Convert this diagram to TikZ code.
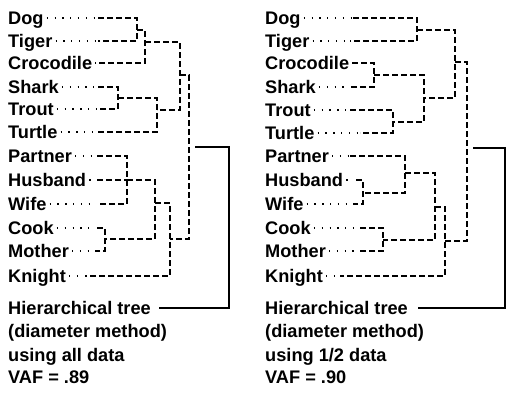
\documentclass[tikz,border=0pt]{standalone}
\usepackage{fontspec}
\setmainfont{Liberation Sans}
\newcommand\leaf[5]{\node[lbl] (#1) at (#2,#3) {#4};\coordinate (#1d) at (#5,#3);\draw[dots] (#1.east) -- (#1d);}
\newcommand\leafnd[5]{\node[lbl] (#1) at (#2,#3) {#4};\coordinate (#1d) at (#5,#3);}
\begin{document}
\begin{tikzpicture}[x=1pt,y=-1pt,
 lbl/.style={anchor=west,inner sep=0pt,text height=13pt,text depth=0pt,font=\fontsize{18.2}{20}\selectfont\bfseries},
 dots/.style={line width=1.3pt,dash pattern=on 1.3pt off 6.5pt,shorten <=3pt,shorten >=2pt},
 dsh/.style={line width=1.3pt,dash pattern=on 6pt off 3pt},
 sol/.style={line width=1.5pt}]
\useasboundingbox (0,0) rectangle (506,392);
% ---------------- left tree ----------------
\leaf{Ldog}{8}{18}{Dog}{98}
\leaf{Ltiger}{8}{41}{Tiger}{98}
\leafnd{Lcroc}{8}{63}{Crocodile}{95}
\leaf{Lshark}{8}{87}{Shark}{98}
\leaf{Ltrout}{8}{109}{Trout}{98}
\leaf{Lturtle}{8}{132}{Turtle}{98}
\leaf{Lpartner}{8}{156}{Partner}{97}
\leaf{Lhusband}{8}{180}{Husband}{97}
\leaf{Lwife}{8}{204}{Wife}{98}
\leaf{Lcook}{8}{228}{Cook}{97}
\leaf{Lmother}{8}{251}{Mother}{95}
\leaf{Lknight}{8}{276}{Knight}{85}
\node[lbl] (Lh) at (8,308) {Hierarchical tree};
\node[lbl] (Ld) at (8,331) {(diameter method)};
\node[lbl] (Lu) at (8,355) {using all data};
\node[lbl] (Lv) at (8,377) {VAF = .89};
\coordinate (c1) at (137,30);
\coordinate (c2) at (145,42);
\coordinate (c3) at (118,98);
\coordinate (c4) at (157,110);
\coordinate (c5) at (180,75);
\coordinate (c6) at (127,180);
\coordinate (c7) at (105,239);
\coordinate (c8) at (155,203);
\coordinate (c9) at (170,239);
\coordinate (c10) at (189,147);
\coordinate (s1) at (195,147);
\coordinate (sL) at (229,308);
\draw[dsh] (Ldogd) -| (c1) |- (Ltigerd);
\draw[dsh] (c1) -| (c2) |- (Lcrocd);
\draw[dsh] (Lsharkd) -| (c3) |- (Ltroutd);
\draw[dsh] (c3) -| (c4) |- (Lturtled);
\draw[dsh] (c2) -| (c5) |- (c4);
\draw[dsh] (Lpartnerd) -| (c6) |- (Lwifed);
\draw[dsh] (Lhusbandd) -- (c6);
\draw[dsh] (Lcookd) -| (c7) |- (Lmotherd);
\draw[dsh] (c6) -| (c8) |- (c7);
\draw[dsh] (c8) -| (c9) |- (Lknightd);
\draw[dsh] (c5) -| (c10) |- (c9);
\draw[sol] (s1) -| (sL) -- ([xshift=8pt]Lh.east);
% ---------------- right tree ----------------
\leaf{Rdog}{265}{18}{Dog}{353}
\leaf{Rtiger}{265}{41}{Tiger}{350}
\leafnd{Rcroc}{265}{63}{Crocodile}{352}
\leaf{Rshark}{265}{87}{Shark}{350}
\leaf{Rtrout}{265}{110}{Trout}{350}
\leaf{Rturtle}{265}{133}{Turtle}{360}
\leaf{Rpartner}{265}{156}{Partner}{350}
\leaf{Rhusband}{265}{180}{Husband}{356}
\leaf{Rwife}{265}{204}{Wife}{353}
\leaf{Rcook}{265}{228}{Cook}{360}
\leaf{Rmother}{265}{251}{Mother}{360}
\leaf{Rknight}{265}{276}{Knight}{340}
\node[lbl] (Rh) at (265,308) {Hierarchical tree};
\node[lbl] (Rd) at (265,331) {(diameter method)};
\node[lbl] (Ru) at (265,355) {using 1/2 data};
\node[lbl] (Rv) at (265,377) {VAF = .90};
\coordinate (d1) at (417,30);
\coordinate (d2) at (374,75);
\coordinate (d3) at (393,122);
\coordinate (d4) at (424,98);
\coordinate (d5) at (455,62);
\coordinate (d6) at (363,193);
\coordinate (d7) at (405,173);
\coordinate (d8) at (383,240);
\coordinate (d9) at (435,207);
\coordinate (d10) at (445,241);
\coordinate (d11) at (467,148);
\coordinate (s2) at (473,148);
\coordinate (sR) at (505,308);
\draw[dsh] (Rdogd) -| (d1) |- (Rtigerd);
\draw[dsh] (Rcrocd) -| (d2) |- (Rsharkd);
\draw[dsh] (Rtroutd) -| (d3) |- (Rturtled);
\draw[dsh] (d2) -| (d4) |- (d3);
\draw[dsh] (d1) -| (d5) |- (d4);
\draw[dsh] (Rhusbandd) -| (d6) |- (Rwifed);
\draw[dsh] (Rpartnerd) -| (d7) |- (d6);
\draw[dsh] (Rcookd) -| (d8) |- (Rmotherd);
\draw[dsh] (d7) -| (d9) |- (d8);
\draw[dsh] (d9) -| (d10) |- (Rknightd);
\draw[dsh] (d5) -| (d11) |- (d10);
\draw[sol] (s2) -| (sR) -- ([xshift=10pt]Rh.east);
\end{tikzpicture}
\end{document}
